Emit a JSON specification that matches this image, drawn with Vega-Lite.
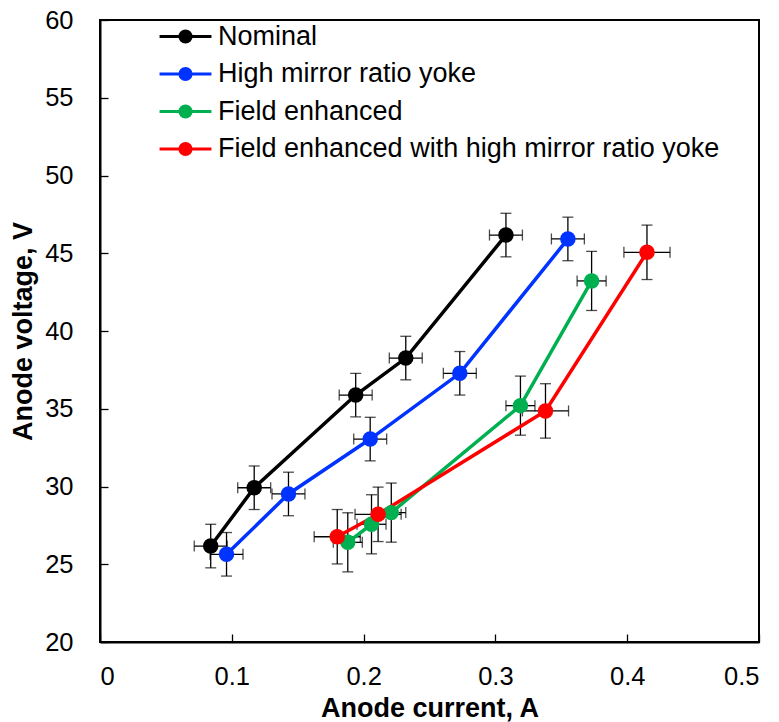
{
  "$schema": "https://vega.github.io/schema/vega-lite/v6.json",
  "width": 659,
  "height": 622,
  "autosize": {"type": "none"},
  "padding": {"left": 100, "top": 20, "right": 20, "bottom": 80},
  "background": "white",
  "data": {"values": [
    {"series": "Nominal", "x": 0.084, "y": 26.17, "xe": 0.0125, "ye": 1.4},
    {"series": "Nominal", "x": 0.117, "y": 29.92, "xe": 0.0125, "ye": 1.4},
    {"series": "Nominal", "x": 0.194, "y": 35.88, "xe": 0.0125, "ye": 1.4},
    {"series": "Nominal", "x": 0.232, "y": 38.26, "xe": 0.0125, "ye": 1.4},
    {"series": "Nominal", "x": 0.308, "y": 46.17, "xe": 0.0125, "ye": 1.4},
    {"series": "High mirror ratio yoke", "x": 0.096, "y": 25.64, "xe": 0.0125, "ye": 1.4},
    {"series": "High mirror ratio yoke", "x": 0.143, "y": 29.52, "xe": 0.0125, "ye": 1.4},
    {"series": "High mirror ratio yoke", "x": 0.205, "y": 33.05, "xe": 0.0125, "ye": 1.4},
    {"series": "High mirror ratio yoke", "x": 0.273, "y": 37.28, "xe": 0.0125, "ye": 1.4},
    {"series": "High mirror ratio yoke", "x": 0.355, "y": 45.92, "xe": 0.0125, "ye": 1.4},
    {"series": "Field enhanced", "x": 0.188, "y": 26.41, "xe": 0.011, "ye": 1.9},
    {"series": "Field enhanced", "x": 0.206, "y": 27.57, "xe": 0.011, "ye": 1.9},
    {"series": "Field enhanced", "x": 0.221, "y": 28.32, "xe": 0.011, "ye": 1.9},
    {"series": "Field enhanced", "x": 0.319, "y": 35.2, "xe": 0.011, "ye": 1.9},
    {"series": "Field enhanced", "x": 0.373, "y": 43.22, "xe": 0.011, "ye": 1.9},
    {"series": "Field enhanced with high mirror ratio yoke", "x": 0.180, "y": 26.77, "xe": 0.0175, "ye": 1.75},
    {"series": "Field enhanced with high mirror ratio yoke", "x": 0.211, "y": 28.21, "xe": 0.0175, "ye": 1.75},
    {"series": "Field enhanced with high mirror ratio yoke", "x": 0.338, "y": 34.86, "xe": 0.0175, "ye": 1.75},
    {"series": "Field enhanced with high mirror ratio yoke", "x": 0.415, "y": 45.06, "xe": 0.0175, "ye": 1.75}
  ]},
  "encoding": {
    "x": {"field": "x", "type": "quantitative", "scale": {"domain": [0, 0.5], "nice": false, "zero": false},
      "axis": {"title": "Anode current, A", "values": [0, 0.1, 0.2, 0.3, 0.4, 0.5], "format": "~g", "labelPadding": 30, "titlePadding": 6, "titleFontSize": 27}},
    "y": {"field": "y", "type": "quantitative", "scale": {"domain": [20, 60], "nice": false, "zero": false},
      "axis": {"title": "Anode voltage, V", "values": [20, 25, 30, 35, 40, 45, 50, 55, 60], "labelPadding": 35, "titlePadding": 7, "titleFontSize": 27}}
  },
  "layer": [
    {
      "mark": {"type": "errorbar", "color": "black", "thickness": 1.3, "ticks": {"size": 11, "thickness": 1.3, "color": "black"}},
      "encoding": {"yError": {"field": "ye"}, "detail": {"field": "series"}}
    },
    {
      "mark": {"type": "errorbar", "color": "black", "thickness": 1.3, "ticks": {"size": 11, "thickness": 1.3, "color": "black"}},
      "encoding": {"xError": {"field": "xe"}, "detail": {"field": "series"}}
    },
    {
      "mark": {"type": "line", "strokeWidth": 3.5},
      "encoding": {
        "color": {"field": "series", "type": "nominal",
          "scale": {"domain": ["Nominal", "High mirror ratio yoke", "Field enhanced", "Field enhanced with high mirror ratio yoke"],
                    "range": ["#000000", "#0033ff", "#00b050", "#ff0000"]},
          "legend": {"title": null, "orient": "none", "legendX": 72, "legendY": 3,
            "symbolType": "M-3.35,0H3.35M-0.72,0A0.72,0.72,0,1,1,0.72,0A0.72,0.72,0,1,1,-0.72,0Z",
            "symbolSize": 400, "symbolStrokeWidth": 3, "labelOffset": 19, "rowPadding": 9.5,
            "labelFontSize": 27, "labelFont": "Liberation Sans", "labelColor": "black", "labelLimit": 700,
            "encode": {"symbols": {"update": {"fill": {"scale": "color", "field": "value"}, "stroke": {"scale": "color", "field": "value"}, "opacity": {"value": 1}, "fillOpacity": {"value": 1}}}}}
        }
      }
    },
    {
      "mark": {"type": "point", "filled": true, "opacity": 1},
      "encoding": {
        "color": {"field": "series", "type": "nominal"},
        "size": {"field": "series", "type": "nominal",
          "scale": {"domain": ["Nominal", "High mirror ratio yoke", "Field enhanced", "Field enhanced with high mirror ratio yoke"], "range": [240, 240, 165, 240]},
          "legend": null}
      }
    }
  ],
  "config": {
    "view": {"stroke": "black", "strokeWidth": 2},
    "axis": {"grid": false, "domainColor": "black", "domainWidth": 2, "tickColor": "black", "tickWidth": 1.3, "tickSize": -8,
      "labelFont": "Liberation Sans", "labelFontSize": 25.5, "labelColor": "black",
      "titleFont": "Liberation Sans", "titleFontWeight": "bold", "titleColor": "black"}
  }
}
